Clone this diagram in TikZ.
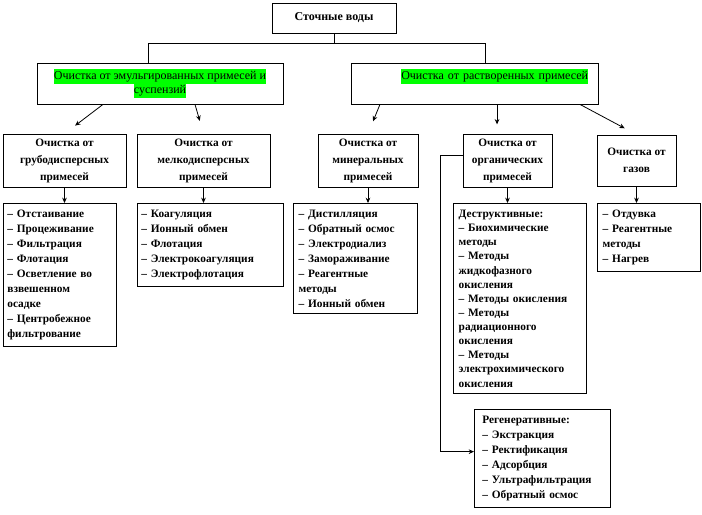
\documentclass[tikz,border=0pt]{standalone}
\usepackage{fontspec}
\setmainfont{Liberation Serif}
\usetikzlibrary{arrows.meta,positioning}
\newcommand{\hlg}[1]{{\setlength{\fboxsep}{0pt}\colorbox{green}{\strut #1}}}

\begin{document}
\begin{tikzpicture}[
  x=0.75pt, y=-0.75pt,
  box/.style={rectangle, draw=black, line width=0.6pt, fill=white, align=center},
  tbox/.style={box, font=\fontsize{9}{11}\selectfont\bfseries},
  hbox/.style={box, font=\fontsize{9}{11.2}\selectfont},
  ttl/.style={box, minimum height=38.25pt, inner xsep=2pt, font=\fontsize{8.5}{12.75}\selectfont\bfseries},
  lst/.style={box, anchor=north west, align=left, inner xsep=4pt, inner ysep=5pt,
              font=\fontsize{8.5}{11.2}\selectfont\bfseries},
  arr/.style={-{Stealth[length=4pt, width=3.5pt]}, line width=0.6pt},
  ln/.style={line width=0.6pt},
]
  \useasboundingbox (0,0) rectangle (702,514);

  \node[tbox, minimum width=93pt, minimum height=22.5pt] (src) at (334,18) {Сточные воды};

  % two main groups
  \node[hbox, minimum width=184.5pt, minimum height=30.75pt] (hL) at (160,83.5)
    {\hlg{Очистка от эмульгированных примесей и}\\\hlg{суспензий}};
  \node[hbox, minimum width=185.25pt, minimum height=30.75pt, inner xsep=7.5pt,
        text width=170.25pt, align=right] (hR) at (474.5,83.5)
    {\hlg{Очистка от растворенных примесей}\\\strut};

  % kinds of impurities
  \node[ttl, minimum width=92.25pt] (aT) at (64.5,160.5) {Очистка от\\грубодисперсных\\примесей};
  \node[ttl, minimum width=99.75pt] (bT) at (203.5,160.5) {Очистка от\\мелкодисперсных\\примесей};
  \node[ttl, minimum width=75pt] (cT) at (368,160.5) {Очистка от\\минеральных\\примесей};
  \node[ttl, minimum width=66.75pt] (dT) at (507.5,160.5) {Очистка от\\органических\\примесей};
  \node[ttl, minimum width=59.25pt] (eT) at (636.5,160.5) {Очистка от\\газов};

  % methods
  \node[lst, inner xsep=3pt, text width=78.75pt] (aL) at (3,203)
    {– Отстаивание\\– Процеживание\\– Фильтрация\\– Флотация\\– Осветление во\\взвешенном\\осадке\\– Центробежное\\фильтрование};
  \node[lst, inner xsep=3pt, text width=103.5pt] (bL) at (137,203)
    {– Коагуляция\\– Ионный обмен\\– Флотация\\– Электрокоагуляция\\– Электрофлотация};
  \node[lst, text width=85pt] (cL) at (293,203)
    {– Дистилляция\\– Обратный осмос\\– Электродиализ\\– Замораживание\\– Реагентные\\методы\\– Ионный обмен};
  \node[lst, text width=91.75pt, font=\fontsize{8.5}{10.6}\selectfont\bfseries] (dL) at (453,203)
    {Деструктивные:\\– Биохимические\\методы\\– Методы\\жидкофазного\\окисления\\– Методы окисления\\– Методы\\радиационного\\окисления\\– Методы\\электрохимического\\окисления};
  \node[lst, text width=69.25pt] (eL) at (597,203)
    {– Отдувка\\– Реагентные\\методы\\– Нагрев};
  \node[lst, inner xsep=6pt, text width=90pt] (rL) at (474,409)
    {Регенеративные:\\– Экстракция\\– Ректификация\\– Адсорбция\\– Ультрафильтрация\\– Обратный осмос};

  % tree lines
  \coordinate (jl) at (148,43);
  \coordinate (jr) at (485,43);
  \draw[ln] (src) -- (src |- jl);
  \draw[ln] (jl) -- (jr);
  \draw[ln] (jl) -- (jl |- hL.north);
  \draw[ln] (jr) -- (jr |- hR.north);

  \draw[arr, shorten >=10pt] ([xshift=-42.75pt]hL.south) -- (aT.north);
  \draw[arr, shorten >=10pt] ([xshift=26.25pt]hL.south) -- (bT.north);
  \draw[arr, shorten >=10pt] ([xshift=-70.9pt]hR.south) -- (cT.north);
  \draw[arr] ([xshift=16.9pt]hR.south) -- ++(0,20);
  \draw[arr, shorten >=10pt] ([xshift=79.1pt]hR.south) -- (eT.north);

  \draw[arr] (aT.south) -- (aT.south |- aL.north);
  \draw[arr] (bT.south) -- (bT.south |- bL.north);
  \draw[arr] (cT.south) -- (cT.south |- cL.north);
  \draw[arr] (dT.south) -- (dT.south |- dL.north);
  \draw[arr] (eT.south) -- (eT.south |- eL.north);
  \draw[arr] ([yshift=4pt]dT.west) -- ++(-22,0) |- ([yshift=5pt]rL.west);
\end{tikzpicture}
\end{document}
